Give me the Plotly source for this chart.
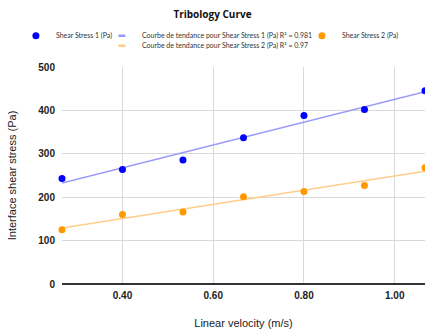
import numpy as np
import plotly.graph_objects as go

velocity = [0.2667, 0.4, 0.5333, 0.6667, 0.8, 0.9333, 1.0667]
shear1 = [243, 264, 286, 337, 388, 402, 445]
shear2 = [125, 160, 166, 201, 213, 227, 268]
x_ticks = [0.4, 0.6, 0.8, 1.0]
x_tick_labels = ["0.40", "0.60", "0.80", "1.00"]
y_ticks = [0, 100, 200, 300, 400, 500]

x = np.array(velocity)


def fit(y):
    y = np.array(y)
    m, b = np.polyfit(x, y, 1)
    return m, b


m1, b1 = fit(shear1)
m2, b2 = fit(shear2)
xl = np.array([velocity[0], velocity[-1]])

BLUE, ORANGE = "#0000ff", "#ff9900"
BLUE_L, ORANGE_L = "#9a9af8", "#ffcd88"
LEG_FONT = dict(size=7.0, family="Lato, Open Sans, sans-serif", color="#333333")

fig = go.Figure()
# trend lines (drawn under the points)
fig.add_trace(go.Scatter(x=xl, y=m1 * xl + b1, mode="lines", showlegend=False,
                         legendgroup="t1", line=dict(color=BLUE_L, width=1.5), hoverinfo="skip"))
fig.add_trace(go.Scatter(x=xl, y=m2 * xl + b2, mode="lines", showlegend=False,
                         legendgroup="t2", line=dict(color=ORANGE_L, width=1.5), hoverinfo="skip"))
# points
fig.add_trace(go.Scatter(x=velocity, y=shear1, mode="markers", name="Shear Stress 1 (Pa)",
                         marker=dict(color=BLUE, size=7), cliponaxis=False, legend="legend"))
fig.add_trace(go.Scatter(x=velocity, y=shear2, mode="markers", name="Shear Stress 2 (Pa)",
                         marker=dict(color=ORANGE, size=7), cliponaxis=False, legend="legend3"))
# legend entries for trend lines
fig.add_trace(go.Scatter(x=[None], y=[None], mode="markers", legendgroup="t1",
                         name="Courbe de tendance pour Shear Stress 1 (Pa) R² = 0.981",
                         marker=dict(symbol="line-ew", size=5, line=dict(width=2.5, color=BLUE_L)),
                         legend="legend2"))
fig.add_trace(go.Scatter(x=[None], y=[None], mode="markers", legendgroup="t2",
                         name="Courbe de tendance pour Shear Stress 2 (Pa) R² = 0.97",
                         marker=dict(symbol="line-ew", size=5, line=dict(width=2.5, color=ORANGE_L)),
                         legend="legend4"))


def leg(xp, yp):
    return dict(orientation="h", x=xp, xanchor="left", y=yp, yanchor="middle",
                font=LEG_FONT, bgcolor="rgba(0,0,0,0)", borderwidth=0, itemwidth=30)


fig.update_layout(
    width=425, height=333,
    margin=dict(l=62, r=0, t=67, b=49, autoexpand=False),
    paper_bgcolor="white", plot_bgcolor="white",
    font=dict(family="Liberation Sans, Arial", color="#222222"),
    title=dict(text="<b>Tribology Curve</b>", x=0.5, xanchor="center", y=0.955, yanchor="middle",
               font=dict(size=10, color="#111111", family="Open Sans, Liberation Sans")),
    legend=leg(-0.127, 1.144),
    legend2=leg(0.110, 1.144),
    legend3=leg(0.661, 1.144),
    legend4=leg(0.110, 1.098),
    showlegend=True,
)
fig.update_xaxes(range=[velocity[0], velocity[-1]], tickvals=x_ticks,
                 ticktext=["<b>%s</b>" % t for t in x_tick_labels],
                 showgrid=True, gridcolor="#d9d9d9", gridwidth=1, zeroline=False,
                 showline=False, ticks="", ticklabelstandoff=4,
                 tickfont=dict(size=10, color="#222222", family="Liberation Sans, Arial"),
                 title=dict(text="Linear velocity (m/s)", font=dict(size=11, color="#222222"), standoff=19))
fig.update_yaxes(range=[0, 500], tickvals=y_ticks, ticktext=["<b>%d</b>" % v for v in y_ticks],
                 showgrid=True, gridcolor="#d9d9d9", gridwidth=1,
                 zeroline=True, zerolinecolor="#333333", zerolinewidth=1.5, ticks="",
                 ticklabelstandoff=6,
                 tickfont=dict(size=10, color="#222222", family="Liberation Sans, Arial"),
                 title=dict(text="Interface shear stress (Pa)", font=dict(size=11, color="#222222"), standoff=19))
fig.write_html("out.html", post_script="document.body.style.margin='0';",
               config={"displayModeBar": False})
